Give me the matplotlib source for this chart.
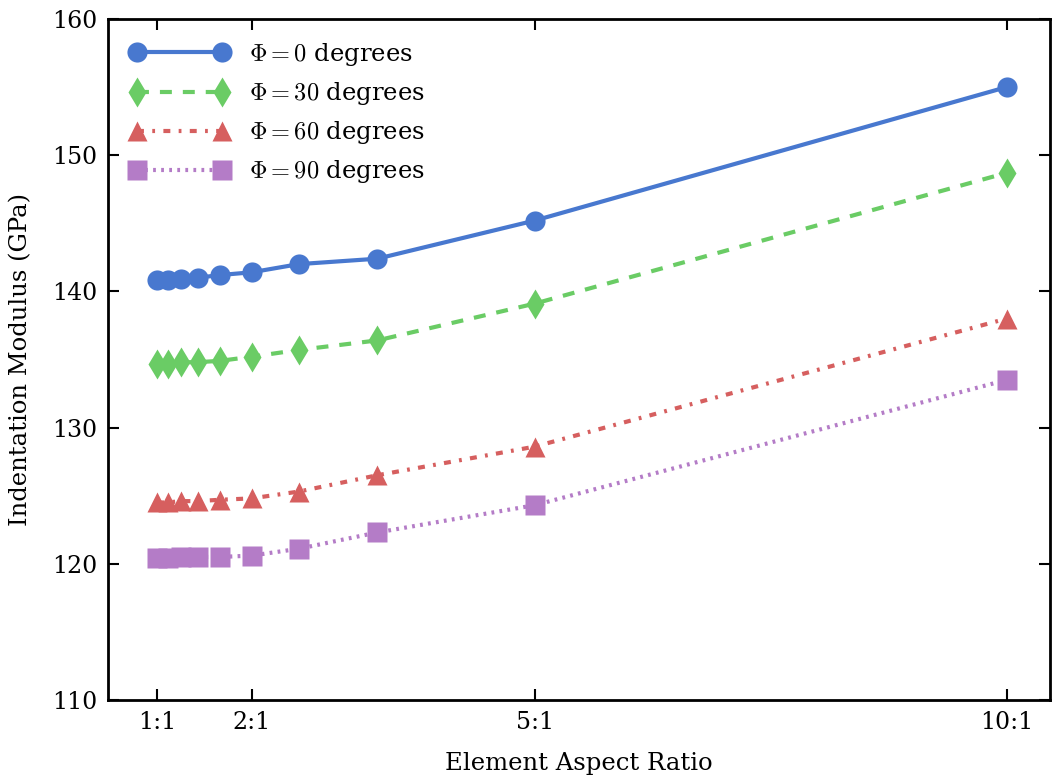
import matplotlib
matplotlib.use('Agg')
import matplotlib.pyplot as plt
import numpy as np

plt.rcParams['font.family'] = 'DejaVu Serif'
plt.rcParams['mathtext.fontset'] = 'cm'
plt.rcParams['lines.scale_dashes'] = False

# aspect ratios 10/n
ratio = [10/10., 10/9., 10/8., 10/7., 10/6., 10/5., 10/4., 10/3., 10/2., 10/1.]
phi0 = [140.8, 140.8, 140.9, 141.0, 141.2, 141.4, 142.0, 142.4, 145.2, 155.0]
phi30 = [134.7, 134.7, 134.8, 134.8, 134.9, 135.2, 135.7, 136.4, 139.1, 148.7]
phi60 = [124.5, 124.5, 124.6, 124.6, 124.7, 124.8, 125.3, 126.5, 128.6, 138.0]
phi90 = [120.4, 120.4, 120.5, 120.5, 120.5, 120.6, 121.1, 122.3, 124.3, 133.5]
xticks = [1, 2, 5, 10]
xticklabels = ['1:1', '2:1', '5:1', '10:1']

fig = plt.figure(figsize=(10.55, 7.78), dpi=100)
ax = fig.add_axes([0.1024, 0.1003, 0.8929, 0.8753])
ax.plot(ratio, phi0, '-', marker='o', color='#4878CF', lw=3, ms=14.5, mec='none',
        label=r'$\Phi = 0$ degrees')
ax.plot(ratio, phi30, marker='d', color='#6ACC65', lw=3, ms=15.5, mec='none',
        dashes=(8.6, 7.9), label=r'$\Phi = 30$ degrees')
ax.plot(ratio, phi60, marker='^', color='#D65F5F', lw=3, ms=14.5, mec='none',
        dashes=(5, 6, 2, 6), label=r'$\Phi = 60$ degrees')
ax.plot(ratio, phi90, marker='s', color='#B47CC7', lw=3, ms=14.5, mec='none',
        dashes=(2, 3.8), label=r'$\Phi = 90$ degrees')

ax.set_xlim(0.48, 10.46)
ax.set_ylim(110, 160)
ax.set_xticks(xticks)
ax.set_xticklabels(xticklabels)
ax.tick_params(direction='in', top=True, right=True, length=8, width=1.5, labelsize=17, pad=8)
for s in ax.spines.values():
    s.set_linewidth(2)
ax.set_xlabel('Element Aspect Ratio', fontsize=17.5, labelpad=13)
ax.set_ylabel('Indentation Modulus (GPa)', fontsize=17.5, labelpad=14)
ax.legend(loc='upper left', frameon=False, fontsize=17.5, numpoints=2,
          handlelength=4.1, labelspacing=0.5, borderaxespad=0.5)

fig.savefig('out.png', dpi=100)
